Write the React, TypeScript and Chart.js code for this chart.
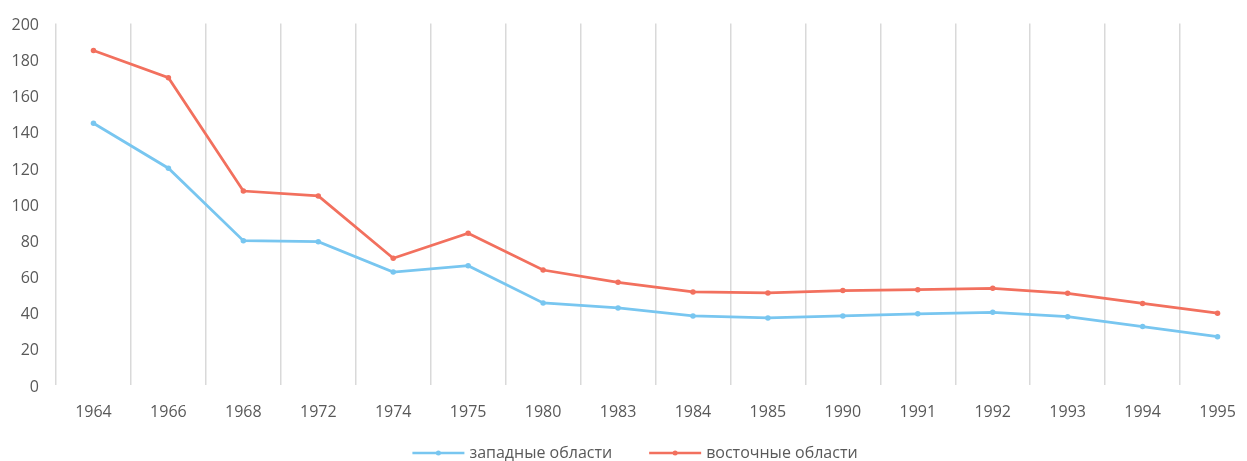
import React, { useEffect, useRef } from "react";
import { Chart, registerables } from "chart.js";

Chart.register(...registerables);

const years = ["1964", "1966", "1968", "1972", "1974", "1975", "1980", "1983", "1984", "1985", "1990", "1991", "1992", "1993", "1994", "1995"];
const westValues = [144.8, 119.9, 79.8, 79.3, 62.5, 66, 45.4, 42.6, 38.2, 37.1, 38.2, 39.4, 40.2, 37.8, 32.3, 26.7];
const eastValues = [185, 170, 107.3, 104.6, 70.1, 83.9, 63.6, 56.8, 51.5, 50.9, 52.2, 52.7, 53.5, 50.7, 45.1, 39.7];
const seriesLabels = ["западные области", "восточные области"];
const seriesColors = ["#78C6F0", "#F2705E"];
const yMin = 0;
const yMax = 200;
const yStep = 20;

const FONT = "'Open Sans', 'Noto Sans', sans-serif";
const TEXT = "#595959";

const legendPlugin = {
  id: "lineLegend",
  afterDraw(chart: any) {
    const ctx = chart.ctx;
    const datasets = chart.data.datasets;
    const sample = 52;
    const gap = 5;
    const itemGap = 37;
    ctx.save();
    ctx.font = `16px ${FONT}`;
    const widths = datasets.map((d: any) => sample + gap + ctx.measureText(d.label).width);
    const total = widths.reduce((a: number, b: number) => a + b, 0) + itemGap * (datasets.length - 1);
    let x = chart.width / 2 - total / 2;
    const y = chart.height - 8;
    datasets.forEach((d: any, i: number) => {
      ctx.strokeStyle = d.borderColor;
      ctx.lineWidth = 2.5;
      ctx.beginPath();
      ctx.moveTo(x, y);
      ctx.lineTo(x + sample, y);
      ctx.stroke();
      ctx.fillStyle = d.borderColor;
      ctx.beginPath();
      ctx.arc(x + sample / 2, y, 2.5, 0, Math.PI * 2);
      ctx.fill();
      ctx.fillStyle = TEXT;
      ctx.textAlign = "left";
      ctx.textBaseline = "middle";
      ctx.fillText(d.label, x + sample + gap, y);
      x += widths[i] + itemGap;
    });
    ctx.restore();
  },
};

export default function App() {
  const ref = useRef<HTMLCanvasElement | null>(null);
  useEffect(() => {
    if (!ref.current) return;
    const mk = (i: number, data: number[]) => ({
      label: seriesLabels[i],
      data,
      borderColor: seriesColors[i],
      backgroundColor: seriesColors[i],
      borderWidth: 2.75,
      pointRadius: 2.75,
      pointHoverRadius: 3,
      pointBorderWidth: 0,
      tension: 0,
    });
    const chart = new Chart(ref.current, {
      type: "line",
      data: {
        labels: years,
        datasets: [mk(0, westValues), mk(1, eastValues)],
      },
      options: {
        animation: false,
        responsive: false,
        layout: { padding: { top: 0, right: 15, bottom: 0, left: 0 } },
        plugins: { legend: { display: false }, tooltip: { enabled: false } },
        scales: {
          x: {
            offset: true,
            grid: { offset: true, color: "#D9D9D9", lineWidth: 1.5, drawTicks: false },
            border: { display: false },
            ticks: { color: TEXT, font: { family: FONT, size: 16 }, padding: 18, maxRotation: 0, autoSkip: false },
            afterFit: (s: any) => { s.height = 76; },
          },
          y: {
            min: yMin,
            max: yMax,
            grid: { display: false, drawTicks: false },
            border: { display: false },
            ticks: { stepSize: yStep, color: TEXT, font: { family: FONT, size: 16, lineHeight: 0.8 }, padding: 17, labelOffset: 2 },
            afterFit: (s: any) => { s.width = 56; },
          },
        },
      },
      plugins: [legendPlugin],
    });
    return () => chart.destroy();
  }, []);
  return (
    <div style={{ position: "fixed", left: 0, top: 0, width: 1247, height: 461, overflow: "hidden", background: "#fff" }}>
      <canvas ref={ref} width={1270} height={461} style={{ display: "block" }} />
    </div>
  );
}
